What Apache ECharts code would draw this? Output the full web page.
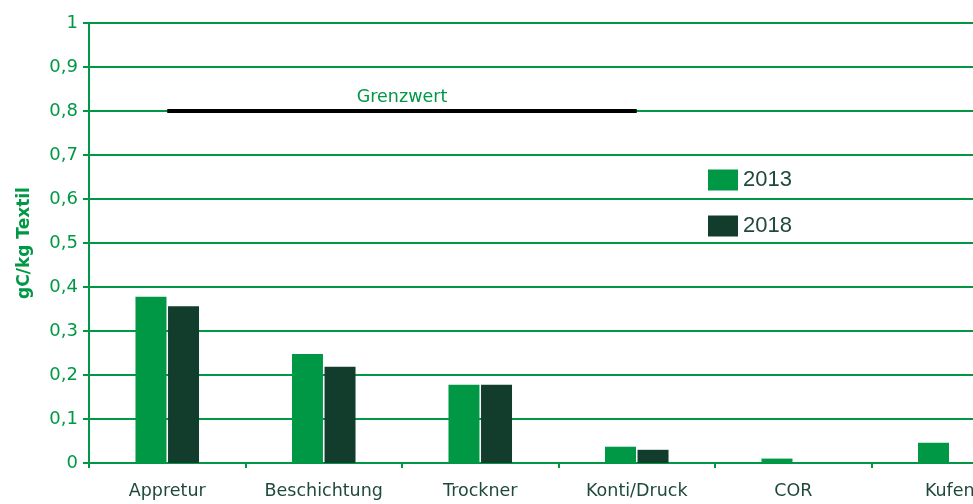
<!DOCTYPE html>
<html>
<head>
<meta charset="utf-8">
<script src="https://cdn.jsdelivr.net/npm/echarts@6/dist/echarts.min.js"></script>
<style>
  html, body { margin: 0; padding: 0; background: #fff; overflow: hidden; }
  #chart-container { width: 1028px; height: 504px; }
</style>
</head>
<body>
<div id="chart-container"></div>
<script>
let dom = document.getElementById('chart-container');
let myChart = echarts.init(dom, null, { renderer: 'canvas' });

// data
let categories = ['Appretur', 'Beschichtung', 'Trockner', 'Konti/Druck', 'COR', 'Kufen'];
let values2013 = [0.378, 0.248, 0.178, 0.037, 0.01, 0.046];
let values2018 = [0.356, 0.219, 0.178, 0.03, 0, 0];
let yTicks = [0, 0.1, 0.2, 0.3, 0.4, 0.5, 0.6, 0.7, 0.8, 0.9, 1];
let limitValue = 0.8;
let limitFrom = 'Appretur';
let limitTo = 'Konti/Druck';

let green = '#009845';
let dark = '#123d2d';

let option = {
    animation: false,
    grid: { left: 89, right: 0, top: 23, bottom: 41 },
    legend: {
        orient: 'vertical',
        left: 703,
        top: 164,
        itemWidth: 30,
        itemHeight: 21,
        itemGap: 24,
        icon: 'rect',
        textStyle: { color: '#1f4a3a', fontSize: 22, fontFamily: 'Liberation Sans' },
        data: ['2013', '2018']
    },
    xAxis: {
        type: 'category',
        data: categories,
        axisLine: { lineStyle: { color: green, width: 2 } },
        axisTick: { show: true, length: 5, lineStyle: { color: green, width: 2 } },
        axisLabel: { color: '#1f4a3a', fontSize: 17.5, margin: 19, fontFamily: 'DejaVu Sans' }
    },
    yAxis: {
        type: 'value',
        min: 0,
        max: 1,
        interval: 0.1,
        name: 'gC/kg Textil',
        nameLocation: 'middle',
        nameGap: 56,
        nameTextStyle: { color: green, fontSize: 17, fontWeight: 'bold', fontFamily: 'DejaVu Sans' },
        axisLine: { show: true, lineStyle: { color: green, width: 2 } },
        axisTick: { show: true, length: 6, lineStyle: { color: green, width: 2 } },
        splitLine: { lineStyle: { color: green, width: 2 } },
        axisLabel: {
            color: green,
            fontSize: 18,
            margin: 11,
            fontFamily: 'DejaVu Sans',
            formatter: function (v) {
                let t = yTicks.find(function (k) { return Math.abs(k - v) < 1e-6; });
                return t === undefined ? '' : String(t).replace('.', ',');
            }
        }
    },
    series: [
        {
            name: '2013',
            type: 'bar',
            data: values2013,
            barWidth: 31,
            barGap: '5%',
            itemStyle: { color: green }
        },
        {
            name: '2018',
            type: 'bar',
            data: values2018,
            barWidth: 31,
            itemStyle: { color: dark }
        },
        {
            // carrier for the limit line so it sits on category centres
            name: 'Grenzwert',
            type: 'line',
            data: [],
            markLine: {
                symbol: 'none',
                silent: true,
                lineStyle: { color: '#000', width: 4, type: 'solid' },
                label: {
                    show: true,
                    position: 'middle',
                    formatter: 'Grenzwert',
                    color: green,
                    fontSize: 17.5,
                    fontFamily: 'DejaVu Sans',
                    distance: 5
                },
                data: [[
                    { coord: [limitFrom, limitValue] },
                    { coord: [limitTo, limitValue] }
                ]]
            }
        }
    ]
};

myChart.setOption(option);
window.addEventListener('resize', myChart.resize);
</script>
</body>
</html>
